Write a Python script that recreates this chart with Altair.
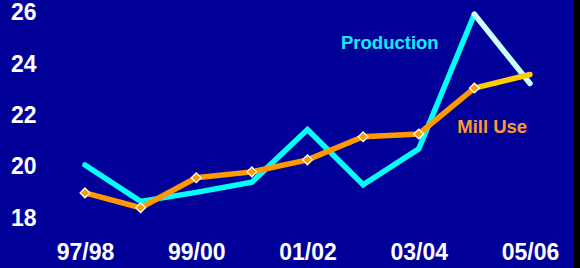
import altair as alt
import pandas as pd

seasons = ["97/98", "98/99", "99/00", "00/01", "01/02", "02/03", "03/04", "04/05", "05/06"]
production = [20.07, 18.65, 19.0, 19.4, 21.45, 19.3, 20.7, 25.95, 23.25]
mill_use = [18.98, 18.4, 19.57, 19.8, 20.27, 21.17, 21.28, 23.07, 23.6]
tick_labels = ["97/98", "99/00", "01/02", "03/04", "05/06"]
y_ticks = [18, 20, 22, 24, 26]

rows = []
n = len(seasons)
for series, vals in (("Production", production), ("Mill Use", mill_use)):
    for i, v in enumerate(vals):
        if i <= n - 2:
            rows.append(dict(series=series, seg=series + " actual", idx=i, season=seasons[i], value=v))
        if i >= n - 2:
            rows.append(dict(series=series, seg=series + " proj", idx=i, season=seasons[i], value=v))
df = pd.DataFrame(rows)

marker_df = pd.DataFrame(dict(idx=list(range(n - 1)), value=mill_use[:-1]))
label_df = pd.DataFrame(dict(idx=[5.48, 7.32], value=[24.83, 21.55],
                             text=["Production", "Mill Use"],
                             color=["#11eeff", "#ff9933"]))

label_expr = "{" + ",".join(f"'{i}':'{s}'" for i, s in enumerate(seasons)) + "}[datum.value]"

x_enc = alt.X("idx:Q", scale=alt.Scale(domain=[-0.665, 8.791], nice=False, zero=False),
              axis=alt.Axis(values=[0, 2, 4, 6, 8], labelExpr=label_expr, title=None,
                            domain=False, ticks=False, grid=False, labelColor="white",
                            labelFont="Liberation Sans", labelFontWeight="bold",
                            labelFontSize=23, labelPadding=11, labelFlush=False))
y_enc = alt.Y("value:Q", scale=alt.Scale(domain=[17.532, 26.507], nice=False, zero=False),
              axis=alt.Axis(values=y_ticks, title=None, domain=False, ticks=False, grid=False,
                            labelColor="white", labelFont="Liberation Sans",
                            labelFontWeight="bold", labelFontSize=23, labelPadding=12))

seg_colors = alt.Scale(
    domain=["Production actual", "Production proj", "Mill Use actual", "Mill Use proj"],
    range=["#00ffff", "#ccffff", "#ff9900", "#ffcc00"])

lines = alt.Chart(df).mark_line(strokeWidth=5.5, strokeCap="round", strokeJoin="miter").encode(
    x=x_enc, y=y_enc,
    color=alt.Color("seg:N", scale=seg_colors, legend=None),
    detail="seg:N",
    order="idx:Q",
)

markers = alt.Chart(marker_df).mark_point(shape="diamond", filled=True, fill="#ff9900",
                                          stroke="white", strokeWidth=1.3, size=95, opacity=1).encode(
    x="idx:Q", y="value:Q")

labels = alt.Chart(label_df).mark_text(font="Liberation Sans", fontWeight="bold", fontSize=18.5,
                                       align="center", baseline="middle").encode(
    x="idx:Q", y="value:Q", text="text:N",
    color=alt.Color("color:N", scale=None))

chart = alt.layer(lines, markers, labels).properties(
    width=526, height=230,
    background="#000099",
    padding={"left": 48, "top": 0, "right": 0, "bottom": 38},
    autosize=alt.AutoSizeParams(type="none"),
).configure_view(stroke=None, fill="#000099")

chart.save("out.html", embed_options={"renderer": "svg", "actions": False})

with open("out.html", "r", encoding="utf-8") as f:
    html = f.read()
html = html.replace("<head>", "<head><style>body{margin:0;background:#000000;}</style>", 1)
with open("out.html", "w", encoding="utf-8") as f:
    f.write(html)
